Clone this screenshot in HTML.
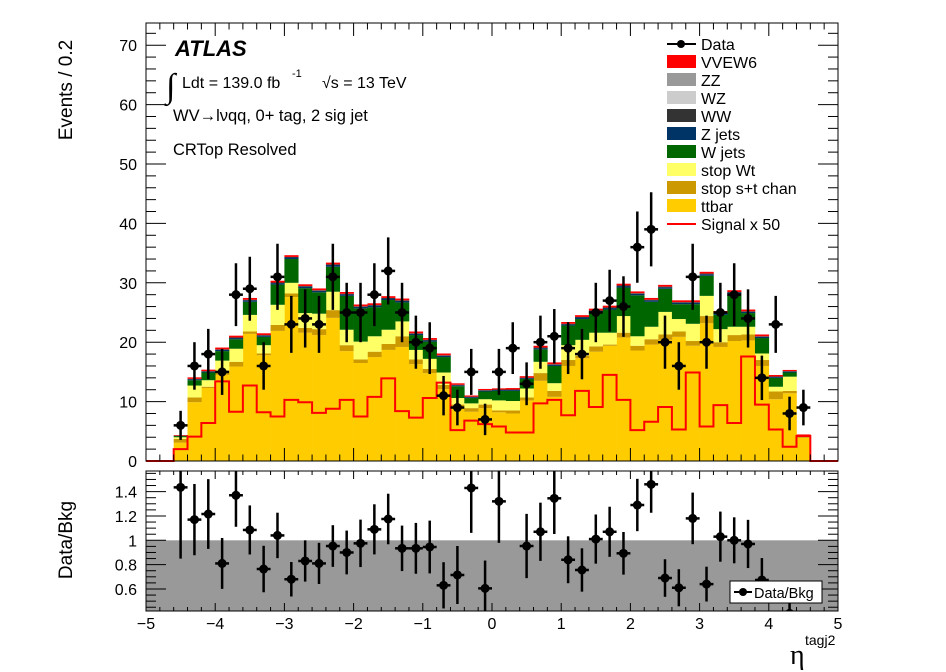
<!DOCTYPE html>
<html><head><meta charset="utf-8"><style>
html,body{margin:0;padding:0;background:#fff;}
svg{display:block;font-family:"Liberation Sans",Arial,sans-serif;}
</style></head><body>
<svg id="c" width="946" height="672" viewBox="0 0 946 672"></svg>
<script>
const ttbar=[3.1,9.9,12.3,14.5,15.9,21.4,17.8,21.9,27.6,21.6,21.2,24.1,18.5,16.5,17.5,18.7,19.2,16.3,14.8,12.1,8.9,8.3,8.9,8.2,8.0,10.2,13.5,10.8,16.0,17.3,18.4,19.4,20.8,18.6,19.6,20.4,20.9,19.4,23.2,19.2,20.2,20.3,16.0,10.4,11.4,3.9];
const stopST=[0.6,0.8,0.2,0.7,0.8,0.4,0.3,1.0,0.6,0.8,1.0,1.3,1.0,0.6,0.9,1.0,1.8,0.8,0.7,0.7,0.6,0.6,0.6,0.3,0.5,0.5,1.3,1.0,1.0,0.4,0.9,0.2,0.8,0.8,0.9,0.9,0.9,0.8,1.2,0.8,1.0,1.0,1.0,1.3,0.4,0.3];
const stopWt=[0.3,2.0,1.1,1.7,2.2,2.8,1.4,3.4,1.8,2.5,2.6,3.1,2.6,3.0,2.6,2.4,2.5,1.6,1.7,2.1,1.1,0.8,0.9,1.7,1.6,1.5,1.9,1.3,2.5,2.7,2.3,2.0,2.8,1.6,2.1,3.8,2.1,2.9,3.4,2.2,1.4,1.3,1.1,0.8,2.4,0.0];
const wjets=[0.2,0.9,1.3,1.6,1.6,2.2,1.4,3.4,4.0,4.2,3.6,4.2,5.7,5.6,4.9,5.0,3.2,2.5,2.9,2.6,2.0,0.9,1.3,1.6,1.7,1.6,2.1,2.9,3.3,3.5,3.4,3.9,4.8,6.9,4.2,3.9,2.5,3.3,3.4,2.4,5.5,2.3,2.6,1.5,0.7,0.1];
const zjets=[0.05,0.15,0.15,0.2,0.2,0.25,0.2,0.25,0.25,0.25,0.25,0.3,0.25,0.25,0.25,0.25,0.25,0.2,0.2,0.2,0.15,0.15,0.15,0.15,0.15,0.15,0.2,0.2,0.2,0.25,0.25,0.25,0.25,0.25,0.25,0.25,0.25,0.25,0.25,0.25,0.25,0.2,0.2,0.15,0.15,0.05];
const ww=[0.02,0.08,0.08,0.1,0.1,0.1,0.1,0.1,0.1,0.1,0.1,0.1,0.1,0.1,0.1,0.1,0.1,0.1,0.1,0.1,0.08,0.08,0.08,0.08,0.08,0.08,0.1,0.1,0.1,0.1,0.1,0.1,0.1,0.1,0.1,0.1,0.1,0.1,0.1,0.1,0.1,0.1,0.1,0.08,0.08,0.02];
const vvew6=[0.1,0.25,0.25,0.3,0.3,0.3,0.3,0.3,0.3,0.3,0.3,0.3,0.3,0.3,0.3,0.3,0.3,0.3,0.3,0.3,0.25,0.2,0.2,0.2,0.25,0.25,0.3,0.3,0.3,0.3,0.3,0.3,0.3,0.3,0.3,0.3,0.3,0.3,0.3,0.3,0.3,0.3,0.3,0.25,0.2,0.1];
const dataCounts=[6,16,18,15,28,29,16,31,23,24,23,31,25,25,28,32,25,20,19,11,9,15,7,15,19,13,20,21,19,18,25,27,26,36,39,20,16,31,20,25,28,24,14,23,8,9];
const signalX50=[2.0,4.1,6.4,13.4,8.3,12.7,8.2,7.5,10.3,9.9,8.1,8.8,10.3,7.5,10.8,13.9,8.4,7.3,10.6,13.2,5.2,6.8,6.2,5.8,4.8,4.8,9.7,10.3,7.7,11.8,9.1,14.5,10.3,5.2,6.6,9.1,5.3,14.9,5.8,9.4,6.4,17.6,9.5,5.3,2.4,4.2];
const ratioVals=[1.435,1.17,1.216,0.81,1.37,1.085,0.764,1.04,0.68,0.83,0.81,0.953,0.90,0.975,1.09,1.175,0.934,0.934,0.945,0.63,0.715,1.43,0.605,1.32,null,0.953,1.07,1.345,0.84,0.756,1.01,1.07,0.893,1.29,1.46,0.69,0.61,1.18,0.64,1.03,1.0,0.97,0.674,null,0.4,null];
const xTickLabels=["\u22125","\u22124","\u22123","\u22122","\u22121","0","1","2","3","4","5"];
const yTickLabels=["0","10","20","30","40","50","60","70"];
const rTickLabels=["0.6","0.8","1","1.2","1.4"];
const binLo=-4.6, binW=0.2;

const NS="http://www.w3.org/2000/svg";
const svg=document.getElementById('c');
function mk(tag,attrs,parent,text){const e=document.createElementNS(NS,tag);for(const k in attrs)e.setAttribute(k,attrs[k]);if(text!==undefined)e.textContent=text;(parent||svg).appendChild(e);return e;}
const L=146,R=838,T=23,B=461,RT=471,RB=611;
const X=v=>L+(v+5)*(R-L)/10;
const Y=v=>B-v*5.94;
const RY=v=>540.3-(v-1)*121.7;

const defs=mk('defs',{});
const cp=mk('clipPath',{id:'rclip'},defs);mk('rect',{x:L,y:RT,width:R-L,height:RB-RT},cp);
const cp2=mk('clipPath',{id:'mclip'},defs);mk('rect',{x:L,y:T,width:R-L,height:B-T},cp2);

const layers=[[ttbar,'#ffcc00','ttbar'],[stopST,'#cc9900','stop-st'],[stopWt,'#ffff66','stop-wt'],[wjets,'#006600','w-jets'],[zjets,'#003366','z-jets'],[ww,'#333333','ww'],[vvew6,'#ff0000','vvew6']];
const stackG=mk('g',{'clip-path':'url(#mclip)'});


const cum=new Array(dataCounts.length).fill(0);
layers.forEach(([arr,col,nm])=>{
  arr.forEach((v,i)=>{
    const x0=X(binLo+i*binW),x1=X(binLo+(i+1)*binW);
    const r=mk('rect',{x:x0,y:Y(cum[i]+v),width:x1-x0+0.3,height:Math.max(0,Y(cum[i])-Y(cum[i]+v)),fill:col},stackG);
    
    
    cum[i]+=v;
  });
});
let d='M'+X(-5)+','+Y(0)+' L'+X(binLo)+','+Y(0);
signalX50.forEach((v,i)=>{d+=' L'+X(binLo+i*binW)+','+Y(v)+' L'+X(binLo+(i+1)*binW)+','+Y(v);});
d+=' L'+X(binLo+signalX50.length*binW)+','+Y(0)+' L'+X(5)+','+Y(0);
const sig=mk('path',{d:d,fill:'none',stroke:'#ff0000','stroke-width':2});


const dataG=mk('g',{'clip-path':'url(#mclip)'});


dataCounts.forEach((v,i)=>{
  const c=binLo+(i+0.5)*binW,cx=X(c),e=Math.sqrt(v);
  mk('line',{x1:cx,x2:cx,y1:Y(v+e),y2:Y(Math.max(0,v-e)),stroke:'#000','stroke-width':2.5},dataG);
  mk('line',{x1:X(c-0.1),x2:X(c+0.1),y1:Y(v),y2:Y(v),stroke:'#000','stroke-width':2.5},dataG);
  const p=mk('circle',{cx:cx,cy:Y(v),r:4.5,fill:'#000'},dataG);
  
  
});
const mf=mk('rect',{x:L,y:T,width:R-L,height:B-T,fill:'none',stroke:'#000','stroke-width':1});



function xticks(yb,yt,len){
  for(let k=0;k<=50;k++){const v=-5+k*0.2,x=X(v),l=(k%5===0)?len:len/2;
    mk('line',{x1:x,x2:x,y1:yb,y2:yb-l,stroke:'#000','stroke-width':1});
    mk('line',{x1:x,x2:x,y1:yt,y2:yt+l,stroke:'#000','stroke-width':1});}
}
xticks(B,T,13);
for(let v=0;v<=72;v+=2){const y=Y(v),l=(v%10===0)?20:10;
  mk('line',{x1:L,x2:L+l,y1:y,y2:y,stroke:'#000'});mk('line',{x1:R,x2:R-l,y1:y,y2:y,stroke:'#000'});}
yTickLabels.forEach((t,i)=>{const tx=mk('text',{x:137,y:Y(i*10)+6,'font-size':16,'text-anchor':'end'},svg,t);
  
  });

const band=mk('rect',{x:L,y:RY(1),width:R-L,height:RB-RY(1),fill:'#999999'});


const rG=mk('g',{'clip-path':'url(#rclip)'});


ratioVals.forEach((r,i)=>{
  if(r===null)return;
  const c=binLo+(i+0.5)*binW,cx=X(c),e=r/Math.sqrt(dataCounts[i]);
  mk('line',{x1:cx,x2:cx,y1:RY(r+e),y2:RY(r-e),stroke:'#000','stroke-width':2.5},rG);
  mk('line',{x1:X(c-0.1),x2:X(c+0.1),y1:RY(r),y2:RY(r),stroke:'#000','stroke-width':2.5},rG);
  const p=mk('circle',{cx:cx,cy:RY(r),r:4.5,fill:'#000'},rG);
  
  
});
const rf=mk('rect',{x:L,y:RT,width:R-L,height:RB-RT,fill:'none',stroke:'#000'});


xticks(RB,RT,8);
for(let k=0;k<=23;k++){const v=0.45+k*0.05;const y=RY(v);if(y<RT||y>RB)continue;const l=(Math.abs((v*10)%2)<0.01||Math.abs((v*10)%2-2)<0.01)?20:10;
  mk('line',{x1:L,x2:L+l,y1:y,y2:y,stroke:'#000'});mk('line',{x1:R,x2:R-l,y1:y,y2:y,stroke:'#000'});}
rTickLabels.forEach((t,i)=>{const tx=mk('text',{x:137,y:RY(0.6+i*0.2)+6,'font-size':16,'text-anchor':'end'},svg,t);
  
  });
xTickLabels.forEach((t,i)=>{const tx=mk('text',{x:X(-5+i),y:629,'font-size':16,'text-anchor':'middle'},svg,t);
  
  });
</script>
<div style="position:absolute;left:0;top:0;width:946px;height:672px;pointer-events:none;">
<svg width="946" height="672" style="position:absolute;left:0;top:0;font-family:'Liberation Sans',Arial,sans-serif;">
  <text x="72" y="90" font-size="19" text-anchor="middle" transform="rotate(-90 72 90)">Events / 0.2</text>
  <text x="72" y="540" font-size="19" text-anchor="middle" transform="rotate(-90 72 540)">Data/Bkg</text>
  <g><text x="790" y="664" font-size="28" font-family="'Liberation Serif',serif">η</text><text x="805" y="645" font-size="14">tagj2</text></g>
  <text x="175" y="56" font-size="22" font-weight="bold" font-style="italic">ATLAS</text>
  <g>
    <text x="166" y="97" font-size="34" font-family="'Liberation Serif',serif">∫</text>
    <text x="182" y="88" font-size="16">Ldt = 139.0 fb</text><text x="292" y="77" font-size="11">-1</text>
    <text x="322" y="88" font-size="16">√s = 13 TeV</text>
  </g>
  <text x="173" y="121" font-size="16.5">WV→lνqq, 0+ tag, 2 sig jet</text>
  <text x="173" y="155" font-size="16.5">CRTop Resolved</text>
  <g font-size="16">
    <line x1="667" y1="44" x2="696" y2="44" stroke="#000" stroke-width="2"/><circle cx="681" cy="44" r="4" fill="#000"/><text x="701" y="50">Data</text>
    <rect x="667" y="55" width="29" height="13" fill="#ff0000"/><text x="701" y="68">VVEW6</text>
    <rect x="667" y="73" width="29" height="13" fill="#999999"/><text x="701" y="86">ZZ</text>
    <rect x="667" y="91" width="29" height="13" fill="#cccccc"/><text x="701" y="104">WZ</text>
    <rect x="667" y="109" width="29" height="13" fill="#333333"/><text x="701" y="122">WW</text>
    <rect x="667" y="127" width="29" height="13" fill="#003366"/><text x="701" y="140">Z jets</text>
    <rect x="667" y="145" width="29" height="13" fill="#006600"/><text x="701" y="158">W jets</text>
    <rect x="667" y="163" width="29" height="13" fill="#ffff66"/><text x="701" y="176">stop Wt</text>
    <rect x="667" y="181" width="29" height="13" fill="#cc9900"/><text x="701" y="194">stop s+t chan</text>
    <rect x="667" y="199" width="29" height="13" fill="#ffcc00"/><text x="701" y="212">ttbar</text>
    <line x1="667" y1="224" x2="696" y2="224" stroke="#ff0000" stroke-width="2"/><text x="701" y="230">Signal x 50</text>
  </g>
  <g>
    <rect x="730" y="581" width="92" height="22" fill="#fff" stroke="#000"/>
    <line x1="734" y1="592" x2="752" y2="592" stroke="#000" stroke-width="2"/><circle cx="743" cy="592" r="4" fill="#000"/>
    <text x="754" y="598" font-size="14.5">Data/Bkg</text>
  </g>
</svg></div>
</body></html>
